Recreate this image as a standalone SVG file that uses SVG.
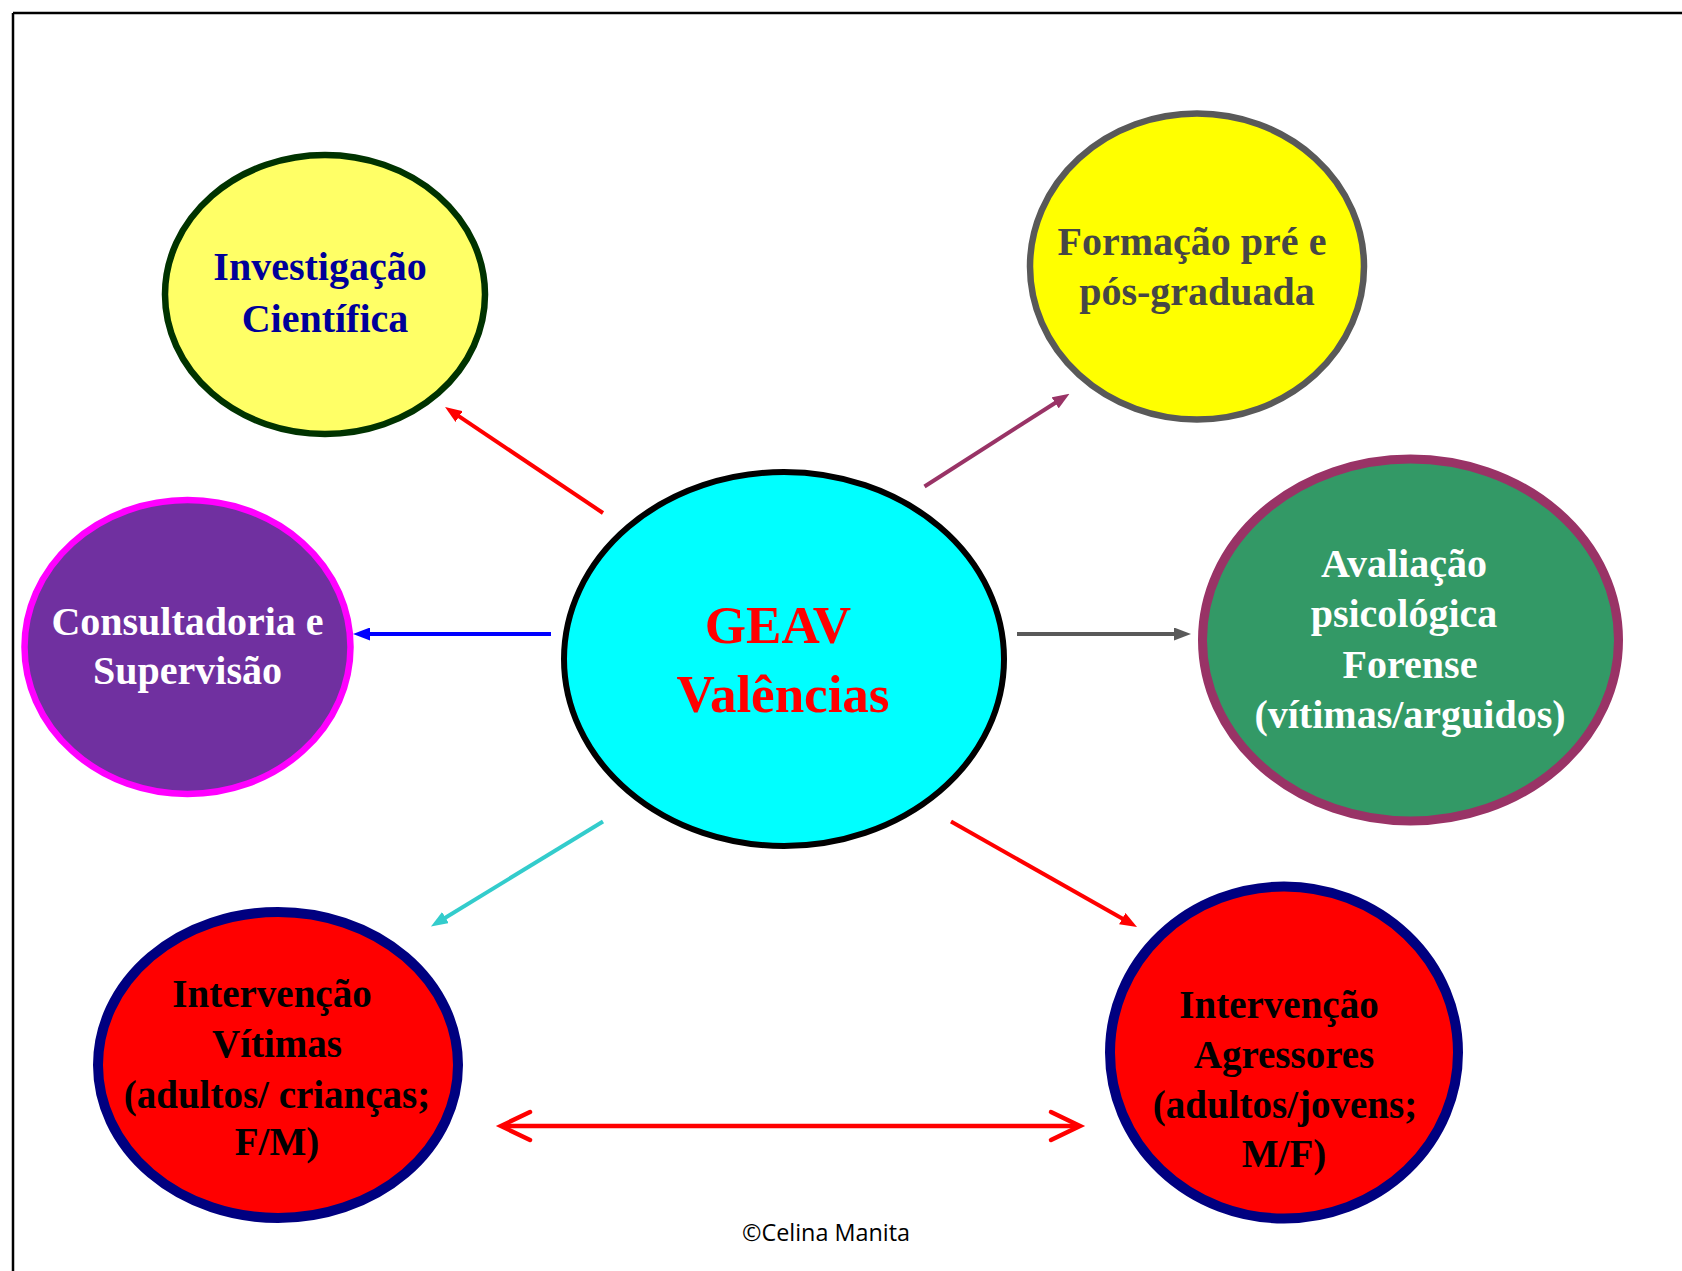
<svg xmlns="http://www.w3.org/2000/svg" width="1682" height="1271" viewBox="0 0 1682 1271">
<style>
  .t { font-family: "Liberation Serif", "Times New Roman", serif; font-weight: bold; text-anchor: middle; }
  .n40 { font-size: 40px; }
  .n39 { font-size: 39px; }
  .conn { fill: none; stroke-width: 4; }
</style>
<defs>
  <marker id="hRed" markerUnits="userSpaceOnUse" markerWidth="17" markerHeight="13" refX="5" refY="6.5" orient="auto"><path d="M0,0 L17,6.5 L0,13 z" fill="#FF0000"/></marker>
  <marker id="hPurple" markerUnits="userSpaceOnUse" markerWidth="17" markerHeight="13" refX="5" refY="6.5" orient="auto"><path d="M0,0 L17,6.5 L0,13 z" fill="#993366"/></marker>
  <marker id="hBlue" markerUnits="userSpaceOnUse" markerWidth="17" markerHeight="13" refX="5" refY="6.5" orient="auto"><path d="M0,0 L17,6.5 L0,13 z" fill="#0000FF"/></marker>
  <marker id="hGray" markerUnits="userSpaceOnUse" markerWidth="17" markerHeight="13" refX="5" refY="6.5" orient="auto"><path d="M0,0 L17,6.5 L0,13 z" fill="#595959"/></marker>
  <marker id="hCyan" markerUnits="userSpaceOnUse" markerWidth="17" markerHeight="13" refX="5" refY="6.5" orient="auto"><path d="M0,0 L17,6.5 L0,13 z" fill="#33CCCC"/></marker>
</defs>
<rect x="0" y="0" width="1682" height="1271" fill="#FFFFFF"/>
<g id="frame" stroke="#000000" stroke-width="2.5" fill="none">
  <line x1="13" y1="13" x2="1682" y2="13"/>
  <line x1="13" y1="13" x2="13" y2="1271"/>
</g>

<g id="connectors">
  <line class="conn" x1="603" y1="513" x2="455" y2="413.7" stroke="#FF0000" marker-end="url(#hRed)"/>
  <line class="conn" x1="924.5" y1="486.5" x2="1059.4" y2="400.2" stroke="#993366" marker-end="url(#hPurple)"/>
  <line class="conn" x1="551" y1="634" x2="365" y2="634" stroke="#0000FF" marker-end="url(#hBlue)"/>
  <line class="conn" x1="1017" y1="634" x2="1179" y2="634" stroke="#595959" marker-end="url(#hGray)"/>
  <line class="conn" x1="603" y1="821.5" x2="441.2" y2="920.2" stroke="#33CCCC" marker-end="url(#hCyan)"/>
  <line class="conn" x1="951" y1="821.5" x2="1126.6" y2="921.1" stroke="#FF0000" marker-end="url(#hRed)"/>
  <g stroke="#FF0000" stroke-width="4.5" fill="none" stroke-linecap="round" stroke-linejoin="miter">
    <line x1="504" y1="1126" x2="1077" y2="1126"/>
    <polyline points="530,1112 501,1126 530,1140"/>
    <polyline points="1051,1112 1080,1126 1051,1140"/>
  </g>
</g>

<g id="node-investigacao">
  <ellipse cx="325" cy="294.5" rx="160" ry="139.5" fill="#FFFF66" stroke="#003300" stroke-width="6.5"/>
  <text class="t n40" fill="#000099" x="320" y="280">Investigação</text>
  <text class="t n40" fill="#000099" x="325" y="332">Científica</text>
</g>

<g id="node-formacao">
  <ellipse cx="1197" cy="266.5" rx="167" ry="153" fill="#FFFF00" stroke="#595959" stroke-width="6.5"/>
  <text class="t n40" fill="#464646" x="1192" y="255">Formação pré e</text>
  <text class="t n40" fill="#464646" x="1197" y="305">pós-graduada</text>
</g>

<g id="node-consultadoria">
  <ellipse cx="187.5" cy="647" rx="163" ry="147" fill="#7030A0" stroke="#FF00FF" stroke-width="6.5"/>
  <text class="t n40" fill="#FFFFFF" x="187.5" y="635">Consultadoria e</text>
  <text class="t n40" fill="#FFFFFF" x="187.5" y="684">Supervisão</text>
</g>

<g id="node-geav">
  <ellipse cx="784" cy="659" rx="220" ry="187" fill="#00FFFF" stroke="#000000" stroke-width="6"/>
  <text class="t" font-size="53" fill="#FF0000" x="778" y="643">GEAV</text>
  <text class="t" font-size="53" fill="#FF0000" x="783" y="712">Valências</text>
</g>

<g id="node-avaliacao">
  <ellipse cx="1410.5" cy="640" rx="208" ry="181" fill="#339966" stroke="#993366" stroke-width="9"/>
  <text class="t n40" fill="#FFFFFF" x="1404" y="577">Avaliação</text>
  <text class="t n40" fill="#FFFFFF" x="1404" y="627">psicológica</text>
  <text class="t n40" fill="#FFFFFF" x="1410" y="678">Forense</text>
  <text class="t n40" fill="#FFFFFF" x="1410" y="728">(vítimas/arguidos)</text>
</g>

<g id="node-vitimas">
  <ellipse cx="278" cy="1065" rx="180" ry="153" fill="#FF0000" stroke="#000080" stroke-width="10"/>
  <text class="t n39" fill="#000000" x="272" y="1007">Intervenção</text>
  <text class="t n39" fill="#000000" x="277" y="1057">Vítimas</text>
  <text class="t n39" fill="#000000" x="277" y="1108">(adultos/ crianças;</text>
  <text class="t n39" fill="#000000" x="277" y="1155">F/M)</text>
</g>

<g id="node-agressores">
  <ellipse cx="1284" cy="1052.5" rx="174" ry="166" fill="#FF0000" stroke="#000080" stroke-width="10"/>
  <text class="t n39" fill="#000000" x="1279" y="1018">Intervenção</text>
  <text class="t n39" fill="#000000" x="1284" y="1068">Agressores</text>
  <text class="t n39" fill="#000000" x="1285" y="1118">(adultos/jovens;</text>
  <text class="t n39" fill="#000000" x="1284" y="1167">M/F)</text>
</g>

<text id="copyright" x="826" y="1241" font-family="'Open Sans', 'Liberation Sans', sans-serif" font-size="23" fill="#000000" text-anchor="middle" textLength="168" lengthAdjust="spacingAndGlyphs">©Celina Manita</text>
</svg>
